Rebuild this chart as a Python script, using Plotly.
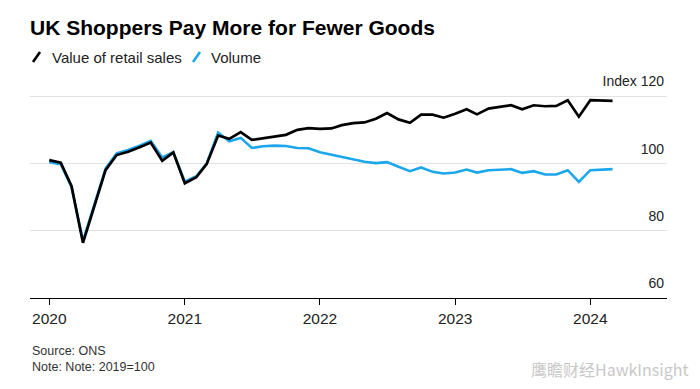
import plotly.graph_objects as go
import pandas as pd

months = pd.date_range("2020-01-01", "2024-03-01", freq="MS")

value_sales = [
    101.0, 100.2, 93.3, 76.4, 87.0, 98.0, 102.5, 103.5, 104.8, 106.2, 100.8, 103.3,
    94.1, 95.9, 99.8, 108.3, 107.3, 109.3, 107.0, 107.5, 107.8, 108.5, 110.0, 110.5,
    110.3, 110.4, 111.4, 112.0, 112.2, 113.3, 115.0, 113.1, 112.1, 114.5, 114.5, 113.6,
    114.8, 116.1, 114.6, 116.3, 116.8, 117.3, 116.1, 117.3, 117.0, 117.1, 118.8, 113.9,
    118.8, 118.7, 118.6,
]
volume = [
    100.4, 99.8, 93.0, 77.0, 87.5, 98.5, 103.0, 104.0, 105.3, 106.7, 101.8, 103.3,
    94.6, 96.2, 100.0, 109.2, 106.6, 107.6, 104.6, 105.1, 105.3, 105.2, 104.6, 104.5,
    103.3, 102.6, 102.0, 101.3, 100.5, 100.1, 100.4, 99.0, 97.7, 98.8, 97.5, 97.0,
    97.3, 98.2, 97.3, 98.0, 98.2, 98.3, 97.2, 97.7, 96.7, 96.7, 98.0, 94.5,
    98.0, 98.1, 98.3,
]

year_ticks = ["2020-01-01", "2021-01-01", "2022-01-01", "2023-01-01", "2024-01-01"]
year_labels = ["2020", "2021", "2022", "2023", "2024"]
y_ticks = [60, 80, 100, 120]
y_labels = ["60", "80", "100", "Index 120"]

BLACK = "#000000"
BLUE = "#1ca7ec"

fig = go.Figure()
fig.add_trace(go.Scatter(x=months, y=volume, mode="lines", name="Volume",
                         line=dict(color=BLUE, width=2.6), hoverinfo="skip"))
fig.add_trace(go.Scatter(x=months, y=value_sales, mode="lines", name="Value of retail sales",
                         line=dict(color=BLACK, width=2.7), hoverinfo="skip"))

W, H = 700, 389
L, R, T, B = 30, 33, 68, 91
pw, ph = W - L - R, H - T - B
y_top = 60 + ph * 66 / 222

def px(x):
    return (x - L) / pw

def py(y):
    return (H - B - y) / ph

fig.update_layout(
    width=W, height=H,
    margin=dict(l=L, r=R, t=T, b=B),
    paper_bgcolor="white", plot_bgcolor="white",
    showlegend=False,
    font=dict(family="Liberation Sans, Arial, sans-serif", color="#222"),
    title=dict(text="<b>UK Shoppers Pay More for Fewer Goods</b>",
               x=L / W, xanchor="left", xref="container",
               y=1 - 28 / H, yanchor="middle", yref="container",
               font=dict(size=21, color="#000")),
)

fig.update_xaxes(
    type="date", range=["2019-11-10", "2024-07-26"],
    tickvals=year_ticks, ticktext=year_labels,
    showgrid=False, showline=True, linecolor="#000", linewidth=1,
    ticks="outside", ticklen=6, tickcolor="#000", tickwidth=1,
    tickfont=dict(size=15.5, color="#222"), zeroline=False,
)
fig.update_yaxes(
    range=[60, y_top], tickvals=y_ticks, ticktext=y_labels,
    side="right", ticklabelposition="inside top", ticklabelshift=-5,
    showgrid=True, gridcolor="#e1e1e1", gridwidth=1,
    showline=False, zeroline=False, ticks="",
    tickfont=dict(size=14, color="#222"),
)

# legend glyphs
fig.add_shape(type="line", xref="paper", yref="paper",
              x0=px(33), y0=py(62), x1=px(40), y1=py(52),
              line=dict(color=BLACK, width=2.6))
fig.add_shape(type="line", xref="paper", yref="paper",
              x0=px(193), y0=py(62), x1=px(200), y1=py(52),
              line=dict(color=BLUE, width=2.6))

anns = [
    dict(text="Value of retail sales", x=px(50), y=py(57)),
    dict(text="Volume", x=px(209), y=py(57)),
]
for a in anns:
    fig.add_annotation(xref="paper", yref="paper", xanchor="left", yanchor="middle",
                       showarrow=False, font=dict(size=15, color="#222"), **a)

fig.add_annotation(xref="paper", yref="paper", x=px(30), y=py(351),
                   xanchor="left", yanchor="middle", showarrow=False,
                   text="Source: ONS", font=dict(size=12.5, color="#333"))
fig.add_annotation(xref="paper", yref="paper", x=px(30), y=py(367),
                   xanchor="left", yanchor="middle", showarrow=False,
                   text="Note: Note: 2019=100", font=dict(size=12.5, color="#333"))
fig.add_annotation(xref="paper", yref="paper", x=px(690), y=py(369),
                   xanchor="right", yanchor="middle", showarrow=False,
                   text="鹰瞻财经HawkInsight",
                   font=dict(size=16, color="#c8c8c8",
                             family="Noto Sans CJK SC, Liberation Sans, sans-serif"))

fig.write_html("out.html", config={"displayModeBar": False},
               post_script="document.body.style.margin='0';document.body.style.padding='0';window.dispatchEvent(new Event('resize'));")
